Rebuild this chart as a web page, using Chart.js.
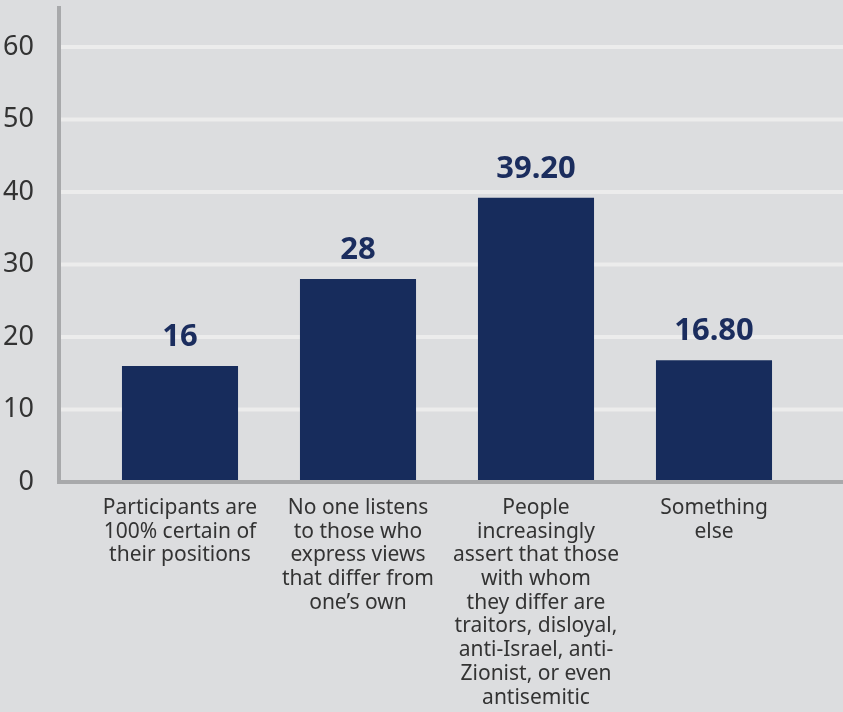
<!DOCTYPE html>
<html>
<head>
<meta charset="utf-8">
<script src="https://cdn.jsdelivr.net/npm/chart.js@4/dist/chart.umd.min.js"></script>
<style>
  html, body { margin: 0; padding: 0; background: #dcdddf; }
  #wrap { width: 843px; height: 712px; position: relative; }
</style>
</head>
<body>
<div id="wrap"><canvas id="chart"></canvas></div>
<script>
// categories (multi-line labels under each bar)
const categories = [
    ['Participants are', '100% certain of', 'their positions'],
    ['No one listens', 'to those who', 'express views', 'that differ from', 'one\u2019s own'],
    ['People', 'increasingly', 'assert that those', 'with whom', 'they differ are', 'traitors, disloyal,', 'anti-Israel, anti-', 'Zionist, or even', 'antisemitic'],
    ['Something', 'else']
];
const values = [16, 28, 39.2, 16.8];
const valueLabels = ['16', '28', '39.20', '16.80'];
const yTicks = [0, 10, 20, 30, 40, 50, 60];

const BAR = '#172c5c';
const GRID = '#ececec';
const AXIS = '#a8a9ab';
const TEXT = '#333333';

// gridlines + axis lines, drawn across the whole width
const backdrop = {
    id: 'backdrop',
    beforeDatasetsDraw(chart) {
        const ctx = chart.ctx;
        const y = chart.scales.y;
        const area = chart.chartArea;
        ctx.save();
        ctx.lineWidth = 4;
        ctx.strokeStyle = GRID;
        yTicks.forEach(v => {
            if (v === 0) return;
            const py = y.getPixelForValue(v);
            ctx.beginPath();
            ctx.moveTo(61, py);
            ctx.lineTo(chart.width, py);
            ctx.stroke();
        });
        ctx.strokeStyle = AXIS;
        ctx.beginPath();
        ctx.moveTo(59, area.top - 1);
        ctx.lineTo(59, y.getPixelForValue(0) + 2);
        ctx.stroke();
        ctx.restore();
    },
    afterDatasetsDraw(chart) {
        const ctx = chart.ctx;
        const py = chart.scales.y.getPixelForValue(0);
        ctx.save();
        ctx.lineWidth = 4;
        ctx.strokeStyle = AXIS;
        ctx.beginPath();
        ctx.moveTo(57, py);
        ctx.lineTo(chart.width, py);
        ctx.stroke();
        ctx.restore();
    }
};

// value labels above bars
const barValues = {
    id: 'barValues',
    afterDatasetsDraw(chart) {
        const ctx = chart.ctx;
        const meta = chart.getDatasetMeta(0);
        ctx.save();
        ctx.font = 'bold 31px "Noto Sans"';
        ctx.fillStyle = '#1b2d5e';
        ctx.textAlign = 'center';
        ctx.textBaseline = 'alphabetic';
        meta.data.forEach((bar, i) => {
            ctx.fillText(valueLabels[i], bar.x, bar.y - 20);
        });
        ctx.restore();
    }
};

new Chart(document.getElementById('chart'), {
    type: 'bar',
    data: {
        labels: categories,
        datasets: [{
            data: values,
            backgroundColor: BAR,
            borderWidth: 0,
            categoryPercentage: 1,
            barPercentage: 0.652
        }]
    },
    options: {
        responsive: true,
        maintainAspectRatio: false,
        animation: false,
        layout: { padding: { top: 7, right: 40, left: 0, bottom: 0 } },
        plugins: {
            legend: { display: false },
            tooltip: { enabled: false }
        },
        scales: {
            x: {
                grid: { display: false, drawTicks: false },
                border: { display: false },
                ticks: {
                    color: TEXT,
                    font: { family: '"Noto Sans"', size: 21, lineHeight: 1.13 },
                    padding: 14,
                    maxRotation: 0,
                    autoSkip: false
                },
                afterFit(scale) {
                    scale.height = 230;
                    scale.paddingLeft = 0;
                    scale.paddingRight = 0;
                }
            },
            y: {
                min: 0,
                max: 65.5,
                grid: { display: false, drawTicks: false },
                border: { display: false },
                ticks: {
                    stepSize: 10,
                    color: TEXT,
                    font: { family: '"Noto Sans"', size: 27 },
                    padding: 57
                },
                afterBuildTicks(scale) {
                    scale.ticks = yTicks.map(v => ({ value: v }));
                },
                afterFit(scale) {
                    scale.width = 91;
                    // the big label gap should not push the plot area down
                    scale.paddingTop = 0;
                    scale.paddingBottom = 0;
                }
            }
        }
    },
    plugins: [backdrop, barValues]
});
</script>
</body>
</html>
